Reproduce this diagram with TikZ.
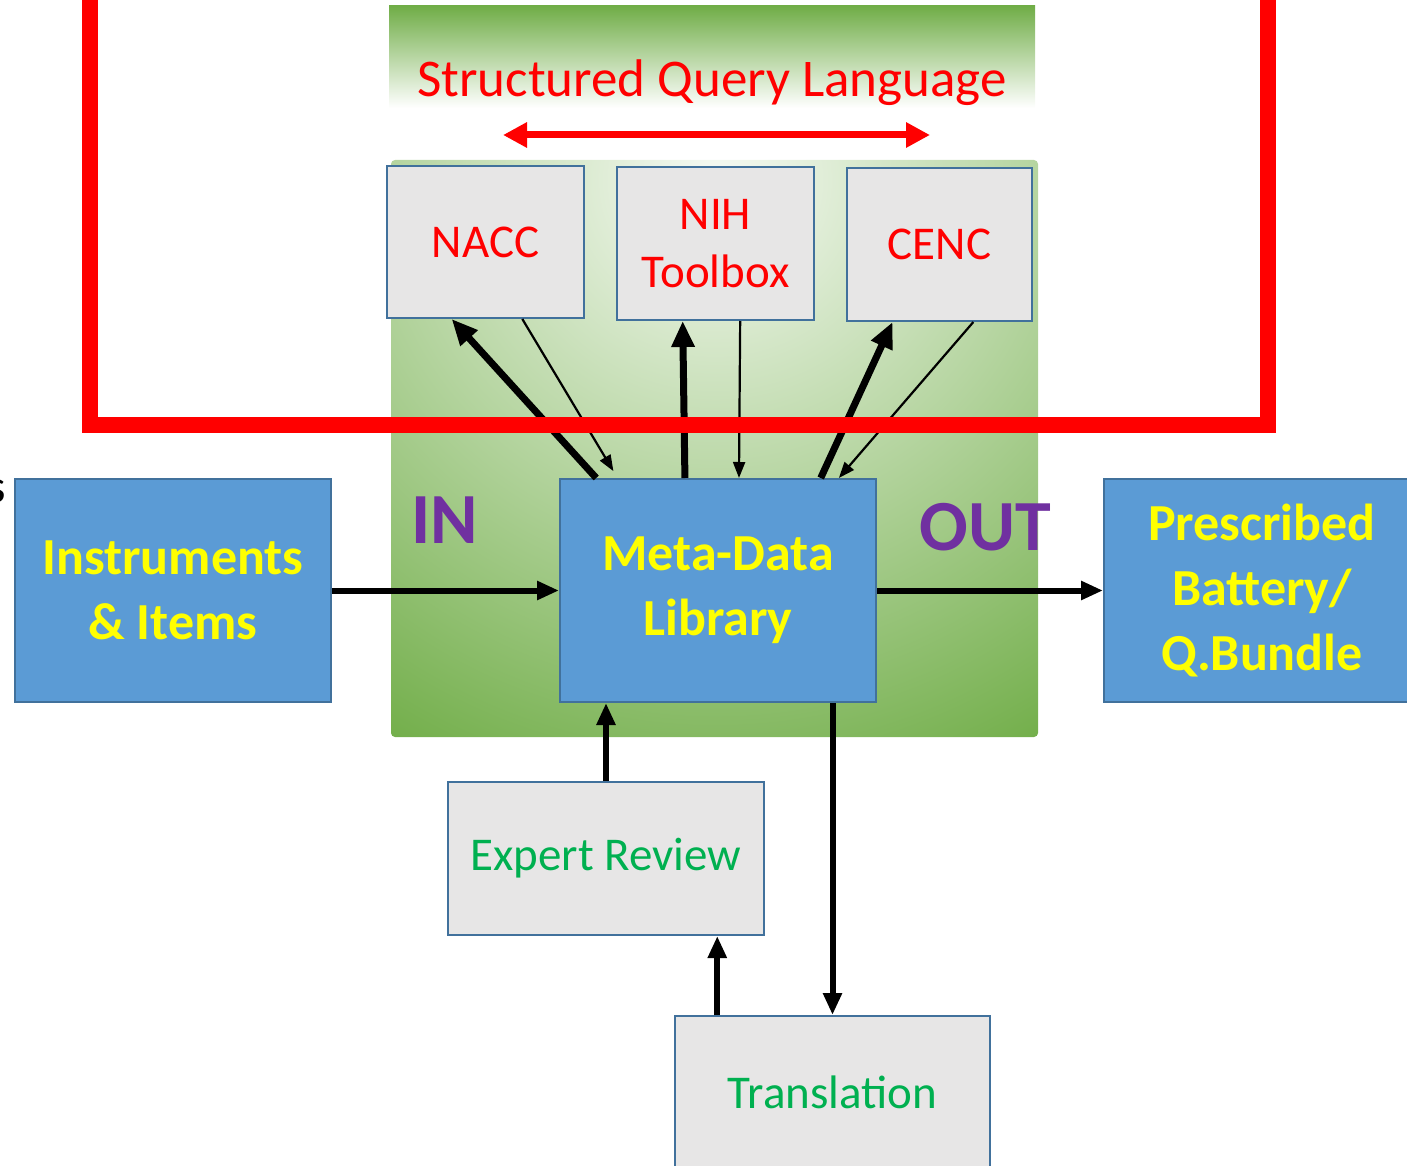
\documentclass[tikz,border=0pt]{standalone}
\usepackage{fontspec}
\setmainfont{Carlito}
\usetikzlibrary{arrows.meta,calc}
\definecolor{offgreen}{HTML}{70AD47}
\definecolor{boxblue}{HTML}{5B9BD5}
\definecolor{boxedge}{HTML}{41719C}
\definecolor{boxgray}{HTML}{E7E6E6}
\definecolor{txtgreen}{HTML}{00B050}
\definecolor{purp}{HTML}{7030A0}
\definecolor{txtyellow}{HTML}{FFFF00}
\definecolor{pured}{HTML}{FF0000}
\tikzset{
  bluebox/.style={draw=boxedge, line width=1pt, fill=boxblue, inner sep=0pt, align=center,
     minimum width=158pt, minimum height=111.5pt, text=txtyellow,
     font=\fontsize{26}{32.5}\selectfont\bfseries},
  graybox/.style={draw=boxedge, line width=1pt, fill=boxgray, inner sep=0pt, align=center,
     minimum height=76.5pt, font=\fontsize{23.5}{29}\selectfont},
  dbbox/.style={graybox, text=pured},
  procbox/.style={graybox, text=txtgreen, minimum width=158pt},
  bigarrow/.style={line width=3.5pt, -{Triangle[length=13pt,width=11pt]}},
  thinarrow/.style={line width=1.1pt, -{Triangle[length=8pt,width=6pt]}},
  flowarrow/.style={line width=3pt, -{Triangle[length=11pt,width=9pt]}},
  inout/.style={text=purp, font=\fontsize{36}{40}\selectfont\bfseries},
}
\begin{document}
\begin{tikzpicture}[x=0.5pt,y=-0.5pt]
\useasboundingbox (0,0) rectangle (1407,1166);
\clip (0,0) rectangle (1407,1166);
% green backgrounds
\shade[top color=offgreen, middle color=offgreen!35!white, bottom color=white] (389,6) rectangle (1035,108);
\begin{scope}
  \clip[rounded corners=2] (391,160) rectangle (1038,737);
  \shade[inner color=offgreen!6!white, outer color=offgreen] (715,180) circle (660);
\end{scope}
% title
\node[text=pured, font=\fontsize{26.5}{30}\selectfont] (sql) at (712,83) {Structured Query Language};
\coordinate (sqlL) at (503,135);
\coordinate (sqlR) at (930,135);
\draw[pured, line width=3.5pt, {Triangle[length=12pt,width=12pt]}-{Triangle[length=12pt,width=12pt]}] (sqlL) -- (sqlR);
% boxes
\node[dbbox, minimum width=98.5pt, minimum height=76pt] (nacc) at (485.5,242) {NACC};
\node[dbbox, minimum width=98.5pt] (nih) at (715.5,243.5) {NIH\\Toolbox};
\node[dbbox, minimum width=92.5pt] (cenc) at (939.5,244.5) {CENC};
\node[bluebox] (meta) at (718,590.5) {Meta-Data\\Library};
\node[bluebox] (inst) at (173,590.5) {Instruments\\\& Items};
\node[bluebox] (presc) at (1262,590.5) {Prescribed\\Battery/\\Q.Bundle};
\node[procbox] (expert) at (606,858.5) {Expert Review};
\node[procbox, minimum width=157.5pt] (transl) at (832.5,1092.5) {Translation};
\node[inout] (in) at (445,520) {IN};
\node[inout] (out) at (985,527) {OUT};
\node[anchor=east, font=\fontsize{23.5}{29}\selectfont] (cut) at (13,491) {s};
% connectors to databases
\draw[bigarrow] ($(meta.north west)!0.117!(meta.north east)$) -- ($(nacc.south west)!0.33!(nacc.south east)$);
\draw[thinarrow, shorten >=4pt] ($(nacc.south west)!0.685!(nacc.south east)$) -- ($(meta.north west)!0.184!(meta.north east)$);
\draw[bigarrow] ($(meta.north west)!0.396!(meta.north east)$) -- ($(nih.south west)!0.335!(nih.south east)$);
\draw[thinarrow] ($(nih.south west)!0.624!(nih.south east)$) -- ($(meta.north west)!0.566!(meta.north east)$);
\draw[bigarrow] ($(meta.north west)!0.823!(meta.north east)$) -- ($(cenc.south west)!0.249!(cenc.south east)$);
\draw[thinarrow] ($(cenc.south west)!0.681!(cenc.south east)$) -- ($(meta.north west)!0.88!(meta.north east)$);
% flow
\draw[flowarrow] (inst) -- (meta);
\draw[flowarrow] (meta.east) -- (presc.west);
\draw[flowarrow] (expert.north) -- (expert.north |- meta.south);
\draw[flowarrow] (meta.south -| transl.north) -- (transl.north);
\coordinate (tx) at ($(transl.north west)!0.1365!(transl.north east)$);
\draw[flowarrow] (tx) -- (tx |- expert.south);
% red frame
\draw[pured, line width=8pt] (90,-30) rectangle (1268,425);
\end{tikzpicture}
\end{document}
